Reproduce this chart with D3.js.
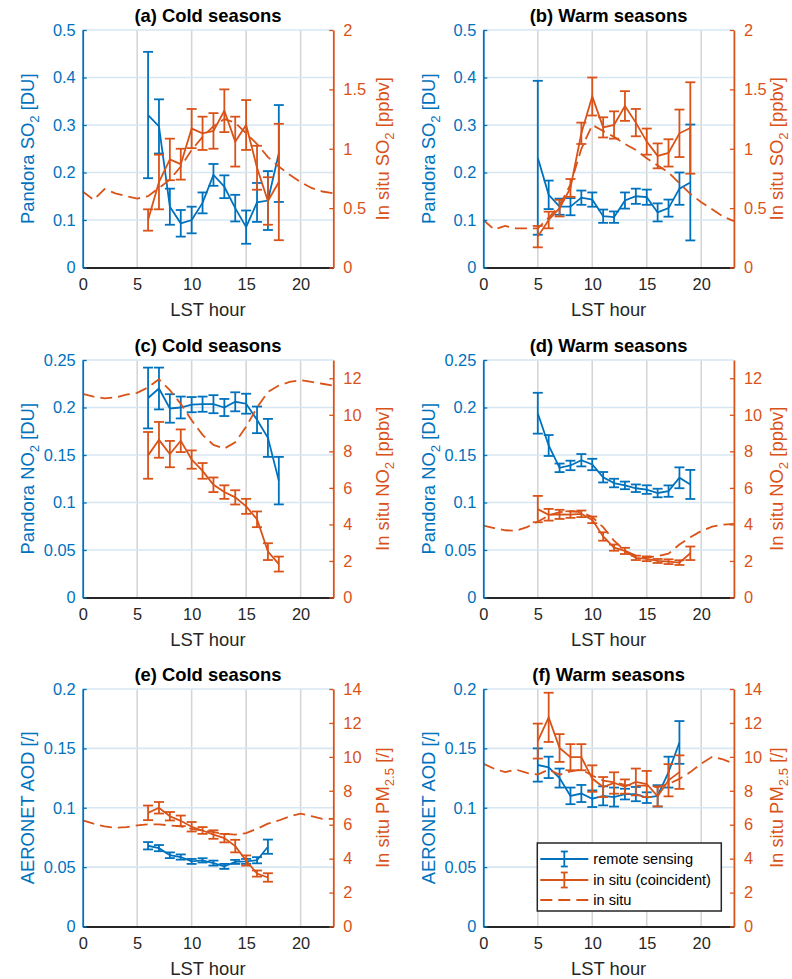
<!DOCTYPE html>
<html>
<head>
<meta charset="utf-8">
<script src="https://cdn.jsdelivr.net/npm/d3@7"></script>
<style>
  body { margin: 0; background: #fff; }
  svg text { font-family: "Liberation Sans", Arial, Helvetica, sans-serif; }
</style>
</head>
<body>
<svg id="fig" width="792" height="979"></svg>
<script>
// ---------- shared axes values ----------
const hoursDay = [0,1,2,3,4,5,6,7,8,9,10,11,12,13,14,15,16,17,18,19,20,21,22,23];
const xTicks = [0,5,10,15,20];

const so2LeftTicks  = [0,0.1,0.2,0.3,0.4,0.5];
const so2RightTicks = [0,0.5,1,1.5,2];
const no2LeftTicks  = [0,0.05,0.1,0.15,0.2,0.25];
const no2RightTicks = [0,2,4,6,8,10,12];
const aodLeftTicks  = [0,0.05,0.1,0.15,0.2];
const pmRightTicks  = [0,2,4,6,8,10,12,14];

// ---------- (a) SO2, cold seasons ----------
const aRemoteHours = [6,7,8,9,10,11,12,13,14,15,16,17,18];
const aRemoteMean  = [0.321,0.297,0.128,0.093,0.100,0.136,0.195,0.170,0.125,0.085,0.137,0.141,0.240];
const aRemoteErr   = [0.133,0.057,0.038,0.028,0.028,0.022,0.023,0.024,0.028,0.035,0.041,0.062,0.102];
const aInsituMean  = [0.40,0.72,0.91,0.87,1.17,1.13,1.15,1.32,1.06,1.20,0.84,0.56,0.72];
const aInsituErr   = [0.09,0.23,0.175,0.13,0.165,0.14,0.15,0.18,0.21,0.21,0.185,0.20,0.49];
const aInsituDay   = [0.64,0.57,0.66,0.625,0.60,0.58,0.60,0.67,0.74,0.85,0.99,1.10,1.19,1.25,1.22,1.13,1.04,0.93,0.85,0.78,0.72,0.67,0.64,0.625];

// ---------- (b) SO2, warm seasons ----------
const bRemoteHours = [5,6,7,8,9,10,11,12,13,14,15,16,17,18,19];
const bRemoteMean  = [0.231,0.153,0.128,0.128,0.147,0.143,0.108,0.106,0.141,0.150,0.148,0.116,0.125,0.166,0.179];
const bRemoteErr   = [0.162,0.030,0.017,0.018,0.015,0.015,0.014,0.012,0.017,0.016,0.016,0.019,0.018,0.034,0.122];
const bInsituMean  = [0.26,0.40,0.50,0.67,1.13,1.44,1.18,1.20,1.36,1.22,1.06,0.94,0.965,1.13,1.175];
const bInsituErr   = [0.09,0.07,0.07,0.075,0.09,0.16,0.085,0.115,0.125,0.115,0.11,0.105,0.115,0.20,0.385];
const bInsituDay   = [0.40,0.32,0.35,0.33,0.33,0.33,0.42,0.52,0.70,1.00,1.20,1.15,1.10,1.04,0.99,0.92,0.86,0.80,0.71,0.62,0.55,0.49,0.43,0.39];

// ---------- (c) NO2, cold seasons ----------
const cRemoteHours = [6,7,8,9,10,11,12,13,14,15,16,17,18];
const cRemoteMean  = [0.210,0.220,0.199,0.200,0.203,0.2035,0.2035,0.200,0.206,0.204,0.187,0.168,0.123];
const cRemoteErr   = [0.032,0.022,0.015,0.0115,0.008,0.008,0.0095,0.009,0.010,0.0105,0.014,0.020,0.025];
const cInsituMean  = [7.78,8.63,7.85,8.58,7.55,6.93,6.17,5.77,5.48,4.99,4.28,2.51,1.83];
const cInsituErr   = [1.28,0.98,0.72,0.62,0.50,0.43,0.40,0.37,0.39,0.41,0.43,0.46,0.41];
const cInsituDay   = [11.15,11.0,10.9,10.95,11.1,11.2,11.5,11.95,11.35,10.6,9.7,8.9,8.35,8.15,8.5,9.35,10.4,11.25,11.6,11.8,11.9,11.8,11.7,11.6];

// ---------- (d) NO2, warm seasons ----------
const dRemoteHours = [5,6,7,8,9,10,11,12,13,14,15,16,17,18,19];
const dRemoteMean  = [0.194,0.160,0.1365,0.139,0.1445,0.140,0.1266,0.1205,0.118,0.115,0.1136,0.110,0.112,0.126,0.119];
const dRemoteErr   = [0.0215,0.011,0.0045,0.005,0.0065,0.006,0.0055,0.0045,0.004,0.004,0.0045,0.0045,0.006,0.011,0.0153];
const dInsituMean  = [4.84,4.53,4.55,4.54,4.58,4.25,3.34,2.73,2.55,2.17,2.12,2.00,1.96,1.91,2.42];
const dInsituErr   = [0.72,0.32,0.25,0.18,0.18,0.18,0.23,0.17,0.17,0.12,0.13,0.11,0.13,0.13,0.37];
const dInsituDay   = [3.94,3.80,3.68,3.65,3.85,4.15,4.49,4.67,4.72,4.67,4.40,3.85,3.11,2.56,2.29,2.18,2.27,2.40,2.90,3.30,3.64,3.88,3.99,4.03];

// ---------- (e) AOD / PM2.5, cold seasons ----------
const eRemoteHours = [6,7,8,9,10,11,12,13,14,15,16,17];
const eRemoteMean  = [0.068,0.066,0.060,0.0585,0.0548,0.0557,0.0534,0.0506,0.0544,0.0548,0.0558,0.0672];
const eRemoteErr   = [0.0031,0.0026,0.0024,0.0022,0.0021,0.0018,0.0021,0.0021,0.0017,0.0021,0.0026,0.006];
const eInsituMean  = [6.70,7.00,6.50,6.23,5.88,5.66,5.42,5.21,4.74,3.89,3.12,2.89];
const eInsituErr   = [0.43,0.34,0.25,0.31,0.28,0.20,0.25,0.25,0.37,0.30,0.18,0.25];
const eInsituDay   = [6.25,6.06,5.90,5.82,5.86,5.96,6.02,6.02,5.96,5.90,5.76,5.66,5.56,5.46,5.42,5.50,5.76,6.06,6.25,6.49,6.65,6.50,6.35,6.35];

// ---------- (f) AOD / PM2.5, warm seasons ----------
const fRemoteHours = [5,6,7,8,9,10,11,12,13,14,15,16,17,18];
const fRemoteMean  = [0.136,0.134,0.125,0.110,0.112,0.1076,0.110,0.109,0.1115,0.1115,0.1085,0.110,0.130,0.155];
const fRemoteErr   = [0.014,0.009,0.008,0.007,0.0072,0.007,0.008,0.008,0.0045,0.006,0.0045,0.009,0.013,0.018];
const fInsituMean  = [10.93,12.33,10.52,9.98,9.98,8.72,8.22,8.46,8.25,8.52,8.40,7.67,8.62,9.10];
const fInsituErr   = [1.03,1.45,0.82,0.77,0.77,0.78,0.59,0.63,0.42,0.79,0.77,0.59,0.95,0.99];
const fInsituDay   = [9.6,9.3,9.1,9.25,9.05,8.95,9.25,8.95,9.15,9.25,8.9,8.6,8.5,8.35,8.3,8.3,8.2,8.4,8.7,9.1,9.6,10.0,9.85,9.6];

// ---------- axis label texts ([text, subscript?]) ----------
const so2LeftLabel  = [["Pandora SO",false],["2",true],[" [DU]",false]];
const so2RightLabel = [["In situ SO",false],["2",true],[" [ppbv]",false]];
const no2LeftLabel  = [["Pandora NO",false],["2",true],[" [DU]",false]];
const no2RightLabel = [["In situ NO",false],["2",true],[" [ppbv]",false]];
const aodLeftLabel  = [["AERONET AOD [/]",false]];
const pmRightLabel  = [["In situ PM",false],["2.5",true],[" [/]",false]];

const legendLabels = ["remote sensing", "in situ (coincident)", "in situ"];

// ---------- styling / layout ----------
const BLUE = "#0072BD", ORANGE = "#D95319", DARK = "#262626";
const colLeft = [82.7, 483.3];
const rightLabelOffset = [56, 49.5];
const rowTop = [30, 360, 689];
const plotW = 250.6, plotH = 237.5;
const TICK_FS = 16.4, LABEL_FS = 18.4, TITLE_FS = 18.4, LEGEND_FS = 14.6;

const panels = [
  {title:"(a) Cold seasons", col:0, row:0, lMax:0.5,  lTicks:so2LeftTicks, rMax:2,  rTicks:so2RightTicks,
   lLabel:so2LeftLabel, rLabel:so2RightLabel,
   rh:aRemoteHours, rm:aRemoteMean, re:aRemoteErr, im:aInsituMean, ie:aInsituErr, day:aInsituDay},
  {title:"(b) Warm seasons", col:1, row:0, lMax:0.5,  lTicks:so2LeftTicks, rMax:2,  rTicks:so2RightTicks,
   lLabel:so2LeftLabel, rLabel:so2RightLabel,
   rh:bRemoteHours, rm:bRemoteMean, re:bRemoteErr, im:bInsituMean, ie:bInsituErr, day:bInsituDay},
  {title:"(c) Cold seasons", col:0, row:1, lMax:0.25, lTicks:no2LeftTicks, rMax:13, rTicks:no2RightTicks,
   lLabel:no2LeftLabel, rLabel:no2RightLabel,
   rh:cRemoteHours, rm:cRemoteMean, re:cRemoteErr, im:cInsituMean, ie:cInsituErr, day:cInsituDay},
  {title:"(d) Warm seasons", col:1, row:1, lMax:0.25, lTicks:no2LeftTicks, rMax:13, rTicks:no2RightTicks,
   lLabel:no2LeftLabel, rLabel:no2RightLabel,
   rh:dRemoteHours, rm:dRemoteMean, re:dRemoteErr, im:dInsituMean, ie:dInsituErr, day:dInsituDay},
  {title:"(e) Cold seasons", col:0, row:2, lMax:0.2,  lTicks:aodLeftTicks, rMax:14, rTicks:pmRightTicks,
   lLabel:aodLeftLabel, rLabel:pmRightLabel,
   rh:eRemoteHours, rm:eRemoteMean, re:eRemoteErr, im:eInsituMean, ie:eInsituErr, day:eInsituDay},
  {title:"(f) Warm seasons", col:1, row:2, lMax:0.2,  lTicks:aodLeftTicks, rMax:14, rTicks:pmRightTicks,
   lLabel:aodLeftLabel, rLabel:pmRightLabel,
   rh:fRemoteHours, rm:fRemoteMean, re:fRemoteErr, im:fInsituMean, ie:fInsituErr, day:fInsituDay, legend:true}
];

const svg = d3.select("#fig");
const fmt = v => String(+v.toFixed(3));

function addLabel(sel, parts, fs) {
  parts.forEach(([t, sub], i) => {
    const ts = sel.append("tspan").text(t);
    if (sub) ts.attr("font-size", fs * 0.72).attr("dy", fs * 0.26);
    else if (i > 0 && parts[i-1][1]) ts.attr("dy", -fs * 0.26);
  });
}

function errorBars(g, data, xs, ys, color, cap) {
  const eb = g.append("g").attr("stroke", color).attr("stroke-width", 1.8).attr("fill", "none");
  data.forEach(d => {
    const xp = xs(d.h), yt = ys(d.v + d.e), yb = ys(d.v - d.e);
    eb.append("line").attr("x1", xp).attr("x2", xp).attr("y1", yt).attr("y2", yb);
    eb.append("line").attr("x1", xp - cap).attr("x2", xp + cap).attr("y1", yt).attr("y2", yt);
    eb.append("line").attr("x1", xp - cap).attr("x2", xp + cap).attr("y1", yb).attr("y2", yb);
  });
}

function drawPanel(p) {
  const x0 = colLeft[p.col], y0 = rowTop[p.row];
  const x = d3.scaleLinear().domain([0, 23]).range([x0, x0 + plotW]);
  const yL = d3.scaleLinear().domain([0, p.lMax]).range([y0 + plotH, y0]);
  const yR = d3.scaleLinear().domain([0, p.rMax]).range([y0 + plotH, y0]);
  const g = svg.append("g");

  // grid
  g.append("g").selectAll("line").data(xTicks.filter(t => t > 0)).join("line")
    .attr("x1", d => x(d)).attr("x2", d => x(d)).attr("y1", y0).attr("y2", y0 + plotH)
    .attr("stroke", "#d6d6d6").attr("stroke-width", 1.6);
  g.append("g").selectAll("line").data(p.lTicks.filter(t => t > 0)).join("line")
    .attr("x1", x0).attr("x2", x0 + plotW).attr("y1", d => yL(d)).attr("y2", d => yL(d))
    .attr("stroke", "#d6e7f3").attr("stroke-width", 1.6);

  // remote sensing
  const remote = p.rh.map((h, i) => ({h, v: p.rm[i], e: p.re[i]}));
  g.append("path").datum(remote)
    .attr("d", d3.line().x(d => x(d.h)).y(d => yL(d.v)))
    .attr("fill", "none").attr("stroke", BLUE).attr("stroke-width", 1.8);
  errorBars(g, remote, x, yL, BLUE, 5);

  // in situ, all hours
  g.append("path").datum(hoursDay.map((h, i) => ({h, v: p.day[i]})))
    .attr("d", d3.line().x(d => x(d.h)).y(d => yR(d.v)))
    .attr("fill", "none").attr("stroke", ORANGE).attr("stroke-width", 1.8)
    .attr("stroke-dasharray", "12,6");

  // in situ, coincident hours
  const insitu = p.rh.map((h, i) => ({h, v: p.im[i], e: p.ie[i]}));
  g.append("path").datum(insitu)
    .attr("d", d3.line().x(d => x(d.h)).y(d => yR(d.v)))
    .attr("fill", "none").attr("stroke", ORANGE).attr("stroke-width", 1.8);
  errorBars(g, insitu, x, yR, ORANGE, 5);

  // axes
  const styleAxis = (ax, color) => {
    ax.select(".domain").attr("stroke", color).attr("stroke-width", 1.8);
    ax.selectAll(".tick line").attr("stroke", color).attr("stroke-width", 1.3);
    ax.selectAll(".tick text").attr("fill", color).attr("font-size", TICK_FS);
  };
  const axB = g.append("g").attr("transform", `translate(0,${y0 + plotH})`)
    .call(d3.axisBottom(x).tickValues(xTicks).tickFormat(fmt).tickSize(-4).tickSizeOuter(0).tickPadding(11));
  styleAxis(axB, DARK);
  const axL = g.append("g").attr("transform", `translate(${x0},0)`)
    .call(d3.axisLeft(yL).tickValues(p.lTicks).tickFormat(fmt).tickSize(-4).tickSizeOuter(0).tickPadding(7));
  styleAxis(axL, BLUE);
  const axR = g.append("g").attr("transform", `translate(${x0 + plotW},0)`)
    .call(d3.axisRight(yR).tickValues(p.rTicks).tickFormat(fmt).tickSize(-4).tickSizeOuter(0).tickPadding(10));
  styleAxis(axR, ORANGE);
  axB.selectAll(".tick line").attr("stroke", "none");

  // labels
  g.append("text").attr("x", x0 + plotW / 2).attr("y", y0 - 8.5)
    .attr("text-anchor", "middle").attr("font-weight", "bold").attr("font-size", TITLE_FS)
    .attr("fill", "#000").text(p.title);
  g.append("text").attr("x", x0 + plotW / 2).attr("y", y0 + plotH + 48.5)
    .attr("text-anchor", "middle").attr("font-size", LABEL_FS).attr("fill", DARK).text("LST hour");
  const ll = g.append("text").attr("transform", `translate(${x0 - 48.5},${y0 + plotH / 2}) rotate(-90)`)
    .attr("text-anchor", "middle").attr("font-size", LABEL_FS).attr("fill", BLUE);
  addLabel(ll, p.lLabel, LABEL_FS);
  const rl = g.append("text")
    .attr("transform", `translate(${x0 + plotW + rightLabelOffset[p.col]},${y0 + plotH / 2}) rotate(-90)`)
    .attr("text-anchor", "middle").attr("font-size", LABEL_FS).attr("fill", ORANGE);
  addLabel(rl, p.rLabel, LABEL_FS);

  if (p.legend) drawLegend(g, x0, y0);
}

function drawLegend(g, x0, y0) {
  const bx = x0 + 54, by = y0 + 154, bw = 184, bh = 68;
  const lg = g.append("g");
  lg.append("rect").attr("x", bx).attr("y", by).attr("width", bw).attr("height", bh)
    .attr("fill", "#fff").attr("stroke", DARK).attr("stroke-width", 1.5);
  const ys = [by + 16, by + 37, by + 57];
  const colors = [BLUE, ORANGE, ORANGE];
  legendLabels.forEach((lab, i) => {
    const yy = ys[i], c = colors[i];
    lg.append("line").attr("x1", bx + 3).attr("x2", bx + 51).attr("y1", yy).attr("y2", yy)
      .attr("stroke", c).attr("stroke-width", 1.8).attr("stroke-dasharray", i === 2 ? "12,6" : null);
    if (i < 2) {
      const cx = bx + 27;
      lg.append("line").attr("x1", cx).attr("x2", cx).attr("y1", yy - 7.5).attr("y2", yy + 7.5)
        .attr("stroke", c).attr("stroke-width", 1.8);
      [yy - 7.5, yy + 7.5].forEach(cy => lg.append("line")
        .attr("x1", cx - 3.5).attr("x2", cx + 3.5).attr("y1", cy).attr("y2", cy)
        .attr("stroke", c).attr("stroke-width", 1.8));
    }
    lg.append("text").attr("x", bx + 56).attr("y", yy).attr("dy", "0.35em")
      .attr("font-size", LEGEND_FS).attr("fill", "#000").text(lab);
  });
}

panels.forEach(drawPanel);
</script>
</body>
</html>
